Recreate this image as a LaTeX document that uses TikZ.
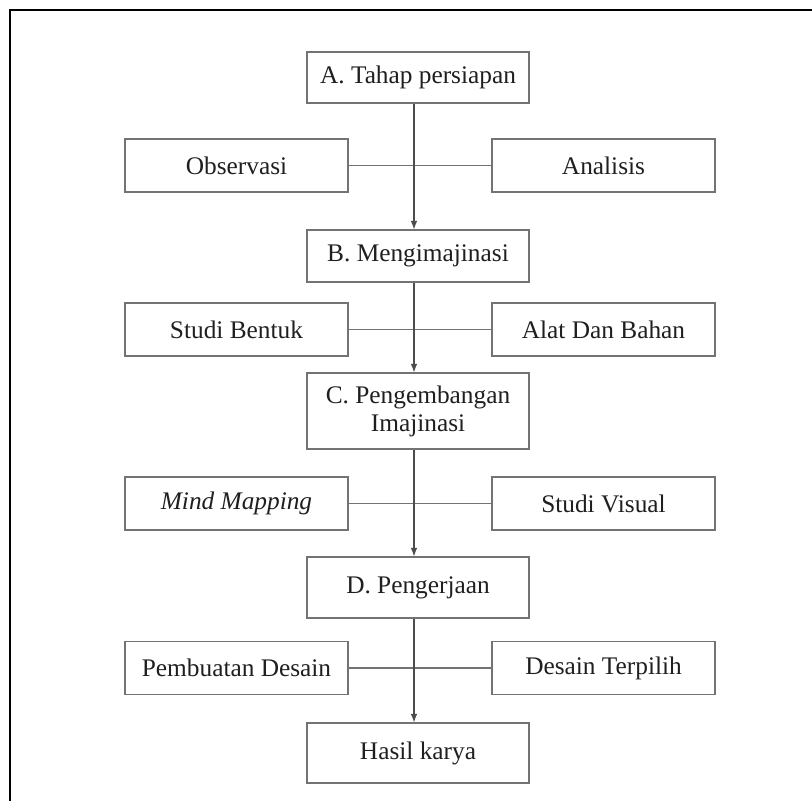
\documentclass[tikz,border=0pt]{standalone}
\usepackage{fontspec}
\setmainfont{Liberation Serif}
\usetikzlibrary{arrows.meta}
\definecolor{boxline}{gray}{0.45}
\definecolor{txt}{gray}{0.12}
\newlength{\unitpx}
\setlength{\unitpx}{0.75pt}
\tikzset{
  box/.style={draw=boxline, line width=0.8pt, rectangle, inner sep=0pt, minimum width=222\unitpx, text=txt, font=\fontsize{19}{21}\selectfont, align=center},
  link/.style={draw=boxline, line width=0.8pt},
  flow/.style={draw=black!70, line width=0.8pt, -{Latex[length=6.5pt,width=5pt]}},
  frame/.style={draw=black, line width=1.8pt}
}
\begin{document}
\begin{tikzpicture}[x=0.75pt,y=-0.75pt]
\useasboundingbox (0,0) rectangle (812,800);
\draw[frame] (10,805) -- (10,10) -- (820,10);
\coordinate (spine) at (414,0);
% main steps
\node[box, minimum height=51\unitpx] (a) at (418,77.5) {A. Tahap persiapan};
\node[box, minimum height=52\unitpx] (b) at (418,256) {B. Mengimajinasi};
\node[box, minimum height=76\unitpx] (c) at (418,411) {C. Pengembangan\\Imajinasi};
\node[box, minimum height=61\unitpx] (d) at (418,587.5) {D. Pengerjaan};
\node[box, minimum height=60\unitpx] (e) at (418,753) {Hasil karya};
% side boxes
\node[box, minimum width=223\unitpx, minimum height=53\unitpx] (obs) at (236.5,165.5) {Observasi};
\node[box, minimum width=223\unitpx, minimum height=53\unitpx] (ana) at (603.5,165.5) {Analisis};
\node[box, minimum width=223\unitpx, minimum height=53\unitpx] (stb) at (236.5,329.5) {Studi Bentuk};
\node[box, minimum width=223\unitpx, minimum height=53\unitpx] (adb) at (603.5,329.5) {Alat Dan Bahan};
\node[box, minimum width=223\unitpx, minimum height=53\unitpx] (mm) at (236.5,503.5) {\itshape Mind Mapping};
\node[box, minimum width=223\unitpx, minimum height=53\unitpx] (sv) at (603.5,503.5) {Studi Visual};
\node[box, minimum width=223\unitpx, minimum height=53\unitpx] (pd) at (236.5,668) {Pembuatan Desain};
\node[box, minimum width=223\unitpx, minimum height=53\unitpx] (dt) at (603.5,668) {Desain Terpilih};
% horizontal links
\draw[link] (obs.east) -- (ana.west);
\draw[link] (stb.east) -- (adb.west);
\draw[link] (mm.east) -- (sv.west);
\draw[link] (pd.east) -- (dt.west);
% flow arrows
\draw[flow] (a.south -| spine) -- (b.north -| spine);
\draw[flow] (b.south -| spine) -- (c.north -| spine);
\draw[flow] (c.south -| spine) -- (d.north -| spine);
\draw[flow] (d.south -| spine) -- (e.north -| spine);
\end{tikzpicture}
\end{document}
